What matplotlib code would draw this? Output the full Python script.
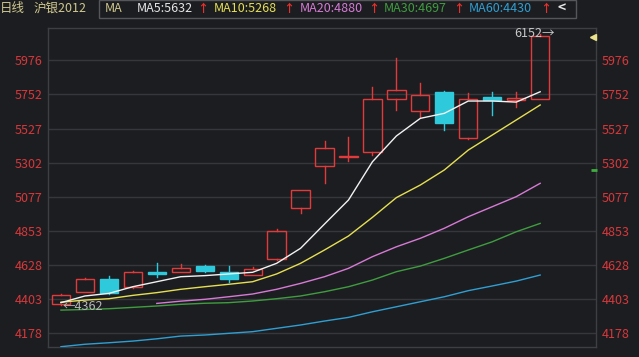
import numpy as np
import matplotlib
matplotlib.use("Agg")
import matplotlib.pyplot as plt
from matplotlib.patches import Rectangle

# ---- data ----
opens  = [4370, 4452, 4536, 4485, 4582, 4584, 4621, 4584, 4564, 4665, 5001,
          5278, 5339, 5370, 5723, 5644, 5769, 5466, 5732, 5715, 5719]
closes = [4428, 4536, 4441, 4580, 4569, 4606, 4590, 4538, 4600, 4852, 5122,
          5398, 5348, 5719, 5780, 5747, 5561, 5719, 5715, 5728, 6136]
highs  = [4435, 4544, 4555, 4590, 4643, 4632, 4628, 4621, 4613, 4863, 5122,
          5446, 5473, 5802, 5993, 5825, 5776, 5759, 5769, 5769, 6152]
lows   = [4362, 4452, 4435, 4478, 4547, 4580, 4580, 4518, 4560, 4661, 4968,
          5170, 5313, 5352, 5649, 5605, 5517, 5456, 5616, 5666, 5719]

ma5  = [4380, 4424, 4441, 4485, 4518, 4551, 4558, 4569, 4580, 4639, 4738,
        4898, 5056, 5308, 5478, 5594, 5627, 5708, 5708, 5701, 5769]
ma10 = [4383, 4397, 4406, 4428, 4446, 4468, 4485, 4501, 4518, 4569, 4639,
        4727, 4819, 4942, 5072, 5155, 5254, 5385, 5484, 5583, 5682]
ma20 = [np.nan, np.nan, np.nan, np.nan, 4375, 4390, 4402, 4419, 4437, 4468, 4507,
        4551, 4606, 4683, 4748, 4804, 4870, 4946, 5012, 5078, 5166]
ma30 = [4331, 4335, 4340, 4349, 4358, 4369, 4376, 4380, 4391, 4406, 4424,
        4452, 4485, 4529, 4584, 4621, 4672, 4727, 4781, 4847, 4902]
ma60 = [4090, 4106, 4116, 4127, 4142, 4160, 4167, 4178, 4189, 4211, 4233,
        4259, 4283, 4320, 4353, 4386, 4419, 4459, 4490, 4522, 4562]

ytick_vals = [4178, 4402.75, 4627.5, 4852.25, 5077, 5301.75, 5526.5, 5751.25, 5976]
ytick_labels = ["4178", "4403", "4628", "4853", "5077", "5302", "5527", "5752", "5976"]

low_label = "4362"
high_label = "6152"
header_left = ["日线", "沪银2012"]
header_items = [("MA", None), ("MA5:5632", "↑"), ("MA10:5268", "↑"), ("MA20:4880", "↑"),
                ("MA30:4697", "↑"), ("MA60:4430", "↑")]

# ---- style ----
BG = "#1c1d21"
GRID = "#36373c"
RED = "#e03a3a"
CYAN = "#2ec9da"
TICK_RED = "#d8383a"
FONT = ["Noto Sans CJK SC", "DejaVu Sans"]
ma_colors = ["#f2f2f2", "#e6df52", "#d77ad6", "#3f9d3f", "#2f9fd2"]
hdr_colors = ["#cfc88e", "#e6e6e6", "#e6df52", "#d77ad6", "#3f9d3f", "#2f9fd2"]

W, H = 639, 357
fig = plt.figure(figsize=(W / 100, H / 100), dpi=100, facecolor=BG)
ax = fig.add_axes([48 / W, 1 - 347 / H, (596 - 48) / W, (347 - 28) / H], facecolor=BG)

n = len(opens)
x = np.arange(n)
ax.set_xlim(-0.54, 22.33)
ax.set_ylim(4088, 6189)

for v in ytick_vals:
    ax.axhline(v, color=GRID, lw=1.0, zorder=0)

bw = 0.76
for i in range(n):
    o, c, h, l = opens[i], closes[i], highs[i], lows[i]
    if c >= o:
        ax.plot([i, i], [c, h], color=RED, lw=1.0, zorder=2)
        ax.plot([i, i], [l, o], color=RED, lw=1.0, zorder=2)
        ax.add_patch(Rectangle((i - bw / 2, o), bw, max(c - o, 4), facecolor="none",
                               edgecolor=RED, lw=1.0, zorder=3))
    else:
        ax.plot([i, i], [l, h], color=CYAN, lw=1.0, zorder=2)
        ax.add_patch(Rectangle((i - bw / 2, c), bw, max(o - c, 8), facecolor=CYAN,
                               edgecolor=CYAN, lw=1.0, zorder=3))

for series, col in zip([ma60, ma30, ma20, ma10, ma5], ma_colors[::-1]):
    ax.plot(x, series, color=col, lw=1.0, zorder=4)

# annotations
ax.text(0.05, 4355, "←" + low_label, color="#b8b8b8", fontsize=9, family=FONT,
        ha="left", va="center", zorder=5)
ax.text(20.62, 6152, high_label + "→", color="#c8c8c8", fontsize=9, family=FONT,
        ha="right", va="center", zorder=5)
ax.plot([22.2], [6130], marker="<", color="#e8e08a", markersize=5, zorder=5, clip_on=False)
ax.plot([22.25], [5254], marker="_", color="#3fae3f", markersize=5, mew=2, zorder=5, clip_on=False)

# ticks
ax.set_yticks(ytick_vals)
ax.set_yticklabels(ytick_labels)
ax.set_xticks([])
ax.tick_params(axis="y", which="both", length=0, colors=TICK_RED, labelsize=9,
               labelleft=True, labelright=True, pad=4)
for lab in ax.get_yticklabels():
    lab.set_family(FONT)
for spine in ax.spines.values():
    spine.set_color("#3e3f44")
    spine.set_linewidth(1.0)

# header
def fx(px):
    return px / W

def fy(py):
    return 1 - py / H

fig.text(fx(0), fy(8.5), header_left[0], color=hdr_colors[0], fontsize=9, family=FONT, va="center")
fig.text(fx(34), fy(8.5), header_left[1], color=hdr_colors[0], fontsize=9, family=FONT, va="center")
fig.patches.append(Rectangle((fx(99), fy(18)), fx(576) - fx(99), fy(0) - fy(18),
                             transform=fig.transFigure, facecolor="none",
                             edgecolor="#55565a", lw=1.0))
xs = [105, 137, 214, 300, 384, 469]
arrow_x = [None, 197, 283, 368, 453, 540]
for (txt, arr), px, ax_, col in zip(header_items, xs, arrow_x, hdr_colors):
    fig.text(fx(px), fy(8.5), txt, color=col, fontsize=9, family=FONT, va="center")
    if arr:
        fig.text(fx(ax_), fy(8.5), arr, color="#e8302a", fontsize=8, family=FONT,
                 va="center", fontweight="bold")
fig.text(fx(558), fy(8.5), "<", color="#e6e6e6", fontsize=10, family=FONT,
         va="center", fontweight="bold")

fig.savefig("out.png", dpi=100, facecolor=BG)
